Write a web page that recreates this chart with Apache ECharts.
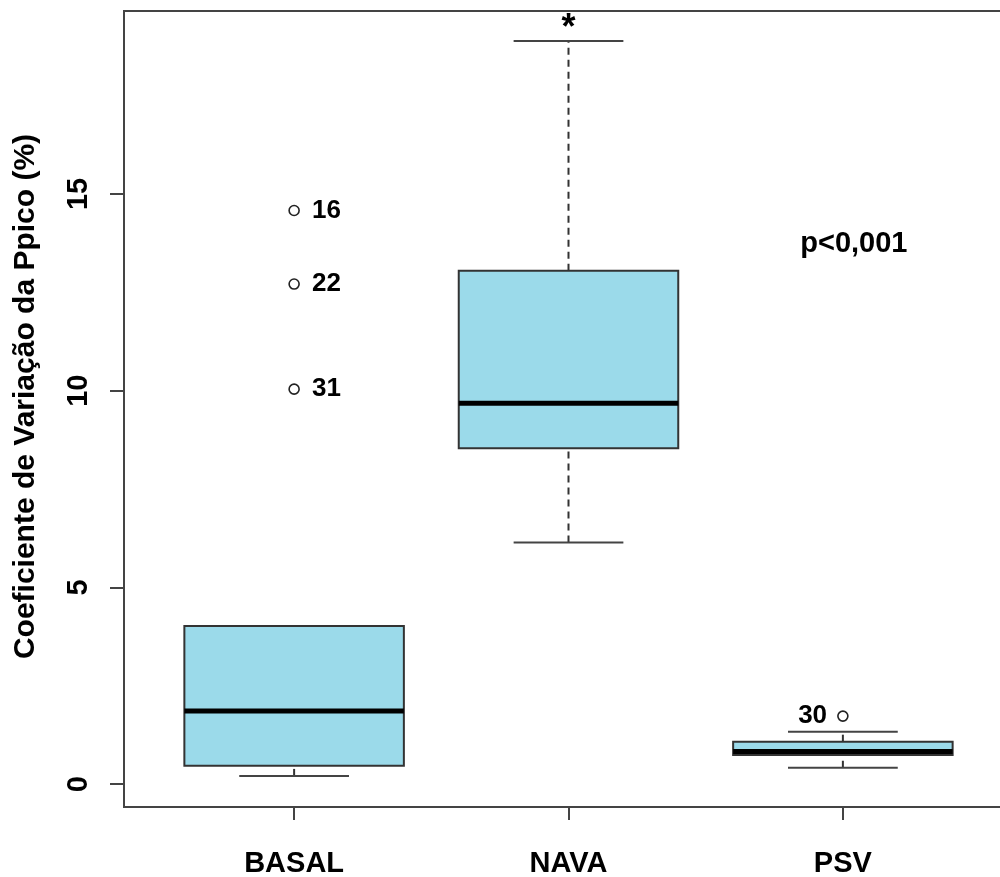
<!DOCTYPE html>
<html>
<head>
<meta charset="utf-8">
<script src="https://cdn.jsdelivr.net/npm/echarts@6/dist/echarts.min.js"></script>
<style>
html,body{margin:0;padding:0;background:#fff;}
#chart{width:1000px;height:877px;}
</style>
</head>
<body>
<div id="chart"></div>
<script>
// ---- data ----
const categories = ['BASAL', 'NAVA', 'PSV'];
const lowerWhisker = [0.21, 6.14, 0.42];
const q1 = [0.47, 8.54, 0.74];
const median = [1.86, 9.68, 0.83];
const q3 = [4.02, 13.05, 1.08];
const upperWhisker = [4.02, 18.89, 1.33];

const outlierGroup = [0, 0, 0, 2];
const outlierValues = [14.58, 12.71, 10.04, 1.73];
const outlierIds = ['16', '22', '31', '30'];

const yTicks = [0, 5, 10, 15];
const pText = 'p<0,001';
const pPos = [3.04, 13.74];
const starPos = [2, 19.2];

// ---- build ----
const FONT = '"Liberation Sans", Arial, sans-serif';
const boxData = categories.map((c, i) => [i + 1, lowerWhisker[i], q1[i], median[i], q3[i], upperWhisker[i]]);
const outData = outlierValues.map((v, i) => ({
  value: [outlierGroup[i] + 1, v],
  label: outlierGroup[i] === 2
    ? { position: 'left', distance: 10 }
    : { position: 'right', distance: 12 },
  name: outlierIds[i]
}));

function renderBox(params, api) {
  const x = api.value(0);
  const lw = api.value(1), a = api.value(2), m = api.value(3), b = api.value(4), uw = api.value(5);
  const hb = 0.4, hc = 0.2;
  const line = (p1, p2, style) => ({ type: 'line', shape: { x1: p1[0], y1: p1[1], x2: p2[0], y2: p2[1] }, style });
  const whiskerStyle = { stroke: '#333', lineWidth: 2, lineDash: [7, 5] };
  const capStyle = { stroke: '#444', lineWidth: 2 };
  const tl = api.coord([x - hb, b]);
  const br = api.coord([x + hb, a]);
  const children = [
    line(api.coord([x, b]), api.coord([x, uw]), whiskerStyle),
    line(api.coord([x, lw]), api.coord([x, a]), whiskerStyle),
    line(api.coord([x - hc, uw]), api.coord([x + hc, uw]), capStyle),
    line(api.coord([x - hc, lw]), api.coord([x + hc, lw]), capStyle),
    { type: 'rect', shape: { x: tl[0], y: tl[1], width: br[0] - tl[0], height: br[1] - tl[1] },
      style: { fill: '#9BDAEA', stroke: '#333', lineWidth: 2 } },
    line(api.coord([x - hb, m]), api.coord([x + hb, m]), { stroke: '#000', lineWidth: 5 })
  ];
  return { type: 'group', children };
}

const chart = echarts.init(document.getElementById('chart'), null, { renderer: 'canvas' });
chart.setOption({
  backgroundColor: '#fff',
  animation: false,
  grid: { left: 124, top: 11, right: -13, bottom: 70, show: true, borderColor: '#444', borderWidth: 2,
          containLabel: false, outerBoundsMode: 'none' },
  xAxis: {
    type: 'value', min: 0.38, max: 3.62,
    splitLine: { show: false },
    axisLine: { show: false, onZero: false },
    axisTick: { show: true, inside: false, customValues: [1, 2, 3], length: 13, lineStyle: { color: '#444', width: 2 } },
    axisLabel: {
      customValues: [1, 2, 3], margin: 42,
      formatter: v => categories[Math.round(v) - 1] || '',
      fontFamily: FONT, fontWeight: 'bold', fontSize: 29, color: '#000'
    }
  },
  yAxis: {
    type: 'value', min: -0.58, max: 19.65,
    splitLine: { show: false },
    axisLine: { show: false, onZero: false },
    axisTick: { show: true, customValues: yTicks, length: 14, lineStyle: { color: '#444', width: 2 } },
    axisLabel: {
      customValues: yTicks, rotate: 90, margin: 31,
      fontFamily: FONT, fontWeight: 'bold', fontSize: 29, color: '#000'
    },
    name: 'Coeficiente de Variação da Ppico (%)',
    nameLocation: 'middle', nameRotate: 90, nameGap: 83,
    nameTextStyle: { fontFamily: FONT, fontWeight: 'bold', fontSize: 30, color: '#000', padding: [0, 0, 0, 25] }
  },
  series: [
    { type: 'custom', renderItem: renderBox, data: boxData, encode: { x: 0, y: [1, 2, 3, 4, 5] }, z: 2 },
    {
      type: 'scatter', data: outData, symbol: 'circle', symbolSize: 10,
      itemStyle: { color: '#fff', borderColor: '#222', borderWidth: 1.6, opacity: 1 },
      label: { show: true, formatter: p => p.name, fontFamily: FONT, fontWeight: 'bold', fontSize: 26,
               color: '#000', textBorderWidth: 0 },
      emphasis: { disabled: true },
      z: 3
    },
    {
      type: 'scatter', symbolSize: 0, silent: true,
      itemStyle: { opacity: 1 },
      data: [
        { value: pPos, name: pText, label: { fontSize: 29 } },
        { value: starPos, name: '*', label: { fontSize: 36 } }
      ],
      label: { show: true, position: 'inside', formatter: p => p.name, fontFamily: FONT, fontWeight: 'bold',
               color: '#000', textBorderWidth: 0 },
      emphasis: { disabled: true },
      z: 4
    }
  ]
});
</script>
</body>
</html>
